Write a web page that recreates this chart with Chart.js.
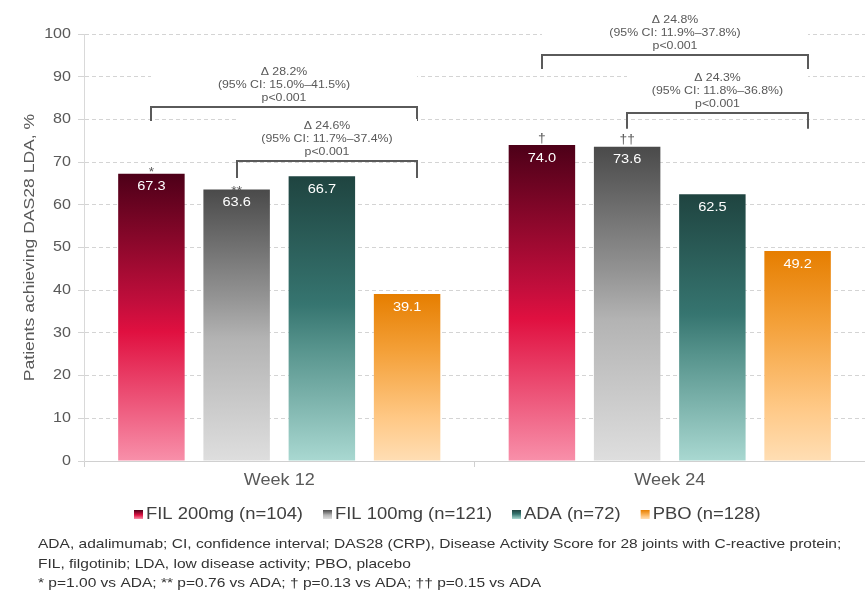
<!DOCTYPE html>
<html>
<head>
<meta charset="utf-8">
<script src="https://cdn.jsdelivr.net/npm/chart.js@4.4.1/dist/chart.umd.min.js"></script>
<style>
  html, body { margin: 0; padding: 0; background: #ffffff; }
  #wrap { width: 865px; height: 600px; position: relative; }
</style>
</head>
<body>
<div id="wrap"><canvas id="chart" width="865" height="600"></canvas></div>
<script>
// ---- data ----
const categories = ['Week 12', 'Week 24'];
const seriesLabels = ['FIL 200mg (n=104)', 'FIL 100mg (n=121)', 'ADA (n=72)', 'PBO (n=128)'];
const fil200 = [67.3, 74.0];
const fil100 = [63.6, 73.6];
const ada = [66.7, 62.5];
const pbo = [39.1, 49.2];
const fil200Marks = ['*', '†'];
const fil100Marks = ['**', '††'];
const yTicks = [0, 10, 20, 30, 40, 50, 60, 70, 80, 90, 100];
const yTitle = 'Patients achieving DAS28 LDA, %';

// treatment differences vs placebo: [category index, dataset from, dataset to, text lines]
const comparisons = [
  [0, 0, 3, ['Δ 28.2%', '(95% CI: 15.0%–41.5%)', 'p<0.001']],
  [0, 1, 3, ['Δ 24.6%', '(95% CI: 11.7%–37.4%)', 'p<0.001']],
  [1, 0, 3, ['Δ 24.8%', '(95% CI: 11.9%–37.8%)', 'p<0.001']],
  [1, 1, 3, ['Δ 24.3%', '(95% CI: 11.8%–36.8%)', 'p<0.001']]
];

const footnotes = [
  'ADA, adalimumab; CI, confidence interval; DAS28 (CRP), Disease Activity Score for 28 joints with C-reactive protein;',
  'FIL, filgotinib; LDA, low disease activity; PBO, placebo',
  '* p=1.00 vs ADA; ** p=0.76 vs ADA; † p=0.13 vs ADA; †† p=0.15 vs ADA'
];

// ---- styling ----
const FONT = '"Liberation Sans", Arial, sans-serif';
const TEXT_GREY = '#595959';
const WIDE = 1.15; // wide-set lettering used throughout
const gradientStops = [
  [[0, '#4d0018'], [0.45, '#c20e3c'], [0.55, '#e01040'], [1, '#f890aa']],
  [[0, '#4a4a4a'], [0.4, '#949494'], [0.55, '#b3b3b3'], [1, '#dedede']],
  [[0, '#1f4440'], [0.45, '#367570'], [0.6, '#56938c'], [1, '#a9d8d1']],
  [[0, '#e67e00'], [0.35, '#f4a13a'], [0.75, '#ffc987'], [1, '#ffdeb4']]
];
// bracket heights (axis units): [horizontal line, end of the drop]
const bracketLevels = [[83, 79.6], [70.3, 66.3], [95.1, 91.8], [81.5, 77.8]];
const bracketRightShift = 10;

function barGradient(stops) {
  return (ctx) => {
    const chart = ctx.chart;
    if (!chart.chartArea || ctx.type !== 'data') return stops[0][1];
    const y = chart.scales.y;
    const top = y.getPixelForValue(ctx.parsed.y);
    const bottom = y.getPixelForValue(0);
    const g = chart.ctx.createLinearGradient(0, top, 0, bottom);
    stops.forEach(([o, c]) => g.addColorStop(o, c));
    return g;
  };
}

// text drawn with a horizontal stretch factor
function wideText(ctx, text, x, y, align, stretch) {
  ctx.save();
  ctx.translate(x, y);
  ctx.scale(stretch, 1);
  ctx.textAlign = align;
  ctx.fillText(text, 0, 0);
  ctx.restore();
}

const seriesValues = [fil200, fil100, ada, pbo];
const seriesMarks = [fil200Marks, fil100Marks, null, null];

const annotations = {
  id: 'annotations',
  afterDatasetsDraw(chart) {
    const ctx = chart.ctx;
    const y = chart.scales.y;
    ctx.save();

    // values inside the bars and significance marks above them
    chart.data.datasets.forEach((ds, di) => {
      const meta = chart.getDatasetMeta(di);
      meta.data.forEach((bar, i) => {
        ctx.fillStyle = '#ffffff';
        ctx.font = '13.5px ' + FONT;
        ctx.textBaseline = 'middle';
        wideText(ctx, ds.data[i].toFixed(1), bar.x, bar.y + 13, 'center', 1.08);
        const marks = seriesMarks[di];
        if (marks && marks[i]) {
          ctx.fillStyle = TEXT_GREY;
          ctx.font = '12px ' + FONT;
          ctx.textBaseline = 'alphabetic';
          const m = marks[i];
          const dy = m === '*' ? 2 : (m === '**' ? 6 : -3.5);
          wideText(ctx, m, bar.x, bar.y + dy, 'center', WIDE);
        }
      });
    });

    // comparison brackets with their labels
    comparisons.forEach(([cat, from, to, lines], k) => {
      const x1 = Math.round(chart.getDatasetMeta(from).data[cat].x);
      const x2 = Math.round(chart.getDatasetMeta(to).data[cat].x + bracketRightShift);
      const yLine = Math.round(y.getPixelForValue(bracketLevels[k][0]));
      const yDrop = y.getPixelForValue(bracketLevels[k][1]);
      const lh = 13;
      const textTop = yLine - 3 - lines.length * lh;
      ctx.fillStyle = '#ffffff';
      ctx.fillRect(x1, textTop, x2 - x1, yLine - textTop);
      ctx.strokeStyle = '#5a5a5a';
      ctx.lineWidth = 2;
      ctx.beginPath();
      ctx.moveTo(x1, yDrop);
      ctx.lineTo(x1, yLine);
      ctx.lineTo(x2, yLine);
      ctx.lineTo(x2, yDrop);
      ctx.stroke();
      ctx.fillStyle = TEXT_GREY;
      ctx.font = '11px ' + FONT;
      ctx.textBaseline = 'middle';
      const cx = (x1 + x2) / 2;
      lines.forEach((t, j) => wideText(ctx, t, cx, textTop + lh / 2 + j * lh, 'center', 1.12));
    });
    ctx.restore();
  },
  afterDraw(chart) {
    const ctx = chart.ctx;
    const area = chart.chartArea;
    const xs = chart.scales.x, ys = chart.scales.y;
    ctx.save();

    // y tick labels
    ctx.fillStyle = TEXT_GREY;
    ctx.font = '14px ' + FONT;
    ctx.textBaseline = 'middle';
    yTicks.forEach(v => wideText(ctx, String(v), area.left - 13, ys.getPixelForValue(v), 'right', WIDE));

    // y title
    ctx.save();
    ctx.translate(30, (area.top + area.bottom) / 2);
    ctx.rotate(-Math.PI / 2);
    ctx.font = '15px ' + FONT;
    ctx.textBaseline = 'middle';
    wideText(ctx, yTitle, 0, 0, 'center', 1.17);
    ctx.restore();

    // category labels
    ctx.font = '16px ' + FONT;
    ctx.textBaseline = 'alphabetic';
    categories.forEach((c, i) => wideText(ctx, c, xs.getPixelForValue(i), 485, 'center', 1.13));

    // legend with gradient swatches
    ctx.font = '16px ' + FONT;
    ctx.textBaseline = 'alphabetic';
    const box = 9, gapBox = 3, gapItem = 20;
    const widths = seriesLabels.map(t => box + gapBox + ctx.measureText(t).width * WIDE);
    let x = 134;
    const baseY = 519;
    seriesLabels.forEach((t, i) => {
      const g = ctx.createLinearGradient(0, baseY - box, 0, baseY);
      gradientStops[i].forEach(([o, c]) => g.addColorStop(o, c));
      ctx.fillStyle = g;
      ctx.fillRect(x, baseY - box, box, box);
      ctx.fillStyle = '#404040';
      wideText(ctx, t, x + box + gapBox, baseY, 'left', WIDE);
      x += widths[i] + gapItem;
    });

    // footnotes
    ctx.font = '13.5px ' + FONT;
    ctx.fillStyle = '#333333';
    ctx.textBaseline = 'alphabetic';
    footnotes.forEach((t, i) => wideText(ctx, t, 38, 548 + i * 19.5, 'left', WIDE));
    ctx.restore();
  }
};

new Chart(document.getElementById('chart'), {
  type: 'bar',
  data: {
    labels: categories,
    datasets: seriesLabels.map((label, i) => ({
      label,
      data: seriesValues[i],
      backgroundColor: barGradient(gradientStops[i]),
      borderWidth: 0,
      categoryPercentage: 0.873,
      barPercentage: 0.78
    }))
  },
  options: {
    responsive: false,
    animation: false,
    layout: { padding: { top: 34, right: 0, bottom: 133, left: 78 } },
    plugins: {
      legend: { display: false },
      tooltip: { enabled: false }
    },
    scales: {
      x: {
        grid: { drawOnChartArea: false, tickLength: 6, color: '#d0d0d0', offset: true },
        border: { color: '#d0d0d0' },
        ticks: { display: false }
      },
      y: {
        min: 0,
        max: 100,
        afterBuildTicks(scale) { scale.ticks = yTicks.map(v => ({ value: v })); },
        grid: { color: '#d4d4d4', tickLength: 6 },
        border: { color: '#d9d9d9', dash: [4, 3] },
        ticks: { display: false }
      }
    }
  },
  plugins: [annotations]
});
</script>
</body>
</html>
